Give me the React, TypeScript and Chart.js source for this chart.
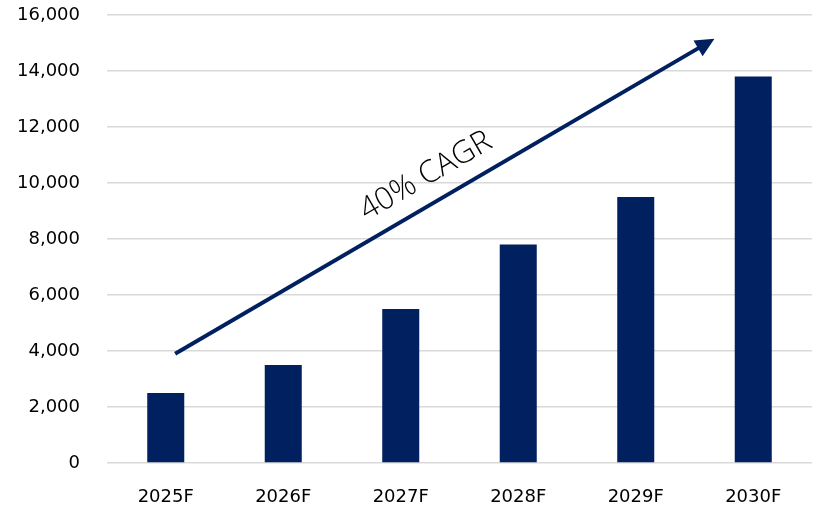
import React, { useEffect, useRef } from "react";
import { Chart, registerables } from "chart.js";

Chart.register(...registerables);

const categories = ["2025F", "2026F", "2027F", "2028F", "2029F", "2030F"];
const values = [2500, 3500, 5500, 7800, 9500, 13800];
const yTicksMax = 16000;
const yStep = 2000;
const arrowStart = { x: 0.08, y: 3900 };
const arrowEnd = { x: 4.67, y: 15150 };
const cagrLabel = "40% CAGR";

const arrowPlugin = {
  id: "cagrArrow",
  afterDatasetsDraw(chart: any) {
    const { ctx, scales } = chart;
    const xs = scales.x;
    const ys = scales.y;
    const x1 = xs.getPixelForValue(arrowStart.x);
    const y1 = ys.getPixelForValue(arrowStart.y);
    const x2 = xs.getPixelForValue(arrowEnd.x);
    const y2 = ys.getPixelForValue(arrowEnd.y);
    const ang = Math.atan2(y2 - y1, x2 - x1);
    const headLen = 19;
    const headW = 9;
    ctx.save();
    ctx.strokeStyle = "#002060";
    ctx.fillStyle = "#002060";
    ctx.lineWidth = 4;
    const bx = x2 - headLen * Math.cos(ang);
    const by = y2 - headLen * Math.sin(ang);
    ctx.beginPath();
    ctx.moveTo(x1, y1);
    ctx.lineTo(bx + 2 * Math.cos(ang), by + 2 * Math.sin(ang));
    ctx.stroke();
    ctx.beginPath();
    ctx.moveTo(x2, y2);
    ctx.lineTo(bx - headW * Math.sin(ang), by + headW * Math.cos(ang));
    ctx.lineTo(bx + headW * Math.sin(ang), by - headW * Math.cos(ang));
    ctx.closePath();
    ctx.fill();

    // label
    const t = 0.49;
    const mx = x1 + (x2 - x1) * t;
    const my = y1 + (y2 - y1) * t;
    const off = 27;
    const lx = mx + off * Math.sin(ang);
    const ly = my - off * Math.cos(ang);
    ctx.translate(lx, ly);
    ctx.rotate(ang);
    ctx.fillStyle = "#000";
    ctx.font = "300 31px 'Open Sans'";
    ctx.textAlign = "center";
    ctx.textBaseline = "middle";
    ctx.fillText(cagrLabel, 0, 0);
    ctx.restore();
  },
};

export default function App() {
  const ref = useRef<HTMLCanvasElement>(null);
  useEffect(() => {
    document.body.style.margin = "0";
    const chart = new Chart(ref.current!, {
      type: "bar",
      data: {
        labels: categories,
        datasets: [
          {
            data: values,
            backgroundColor: "#002060",
            barPercentage: 0.315,
            categoryPercentage: 1,
          },
        ],
      },
      options: {
        animation: false,
        responsive: false,
        layout: { padding: { top: 15, right: 9, left: 0, bottom: 0 } },
        plugins: { legend: { display: false }, tooltip: { enabled: false } },
        scales: {
          x: {
            grid: { display: false, drawTicks: false },
            border: { display: false },
            ticks: {
              color: "#000",
              font: { family: "'DejaVu Sans'", size: 18 },
              padding: 24,
            },
            afterFit(scale: any) {
              scale.height = 49;
              scale.paddingLeft = 0;
              scale.paddingRight = 0;
            },
          },
          y: {
            min: 0,
            max: yTicksMax,
            grid: { color: "#d9d9d9", lineWidth: 1.5, drawTicks: false },
            border: { display: false },
            ticks: {
              stepSize: yStep,
              color: "#000",
              font: { family: "'DejaVu Sans'", size: 18 },
              padding: 27,
              callback: (v: any) => Number(v).toLocaleString("en-US"),
            },
            afterFit(scale: any) {
              scale.width = 107;
              scale.paddingTop = 0;
              scale.paddingBottom = 0;
            },
          },
        },
      },
      plugins: [arrowPlugin],
    });
    return () => chart.destroy();
  }, []);
  return (
    <div style={{ position: "relative", width: 821, height: 512, background: "#fff" }}>
      <canvas ref={ref} width={821} height={512} style={{ width: 821, height: 512 }} />
    </div>
  );
}
